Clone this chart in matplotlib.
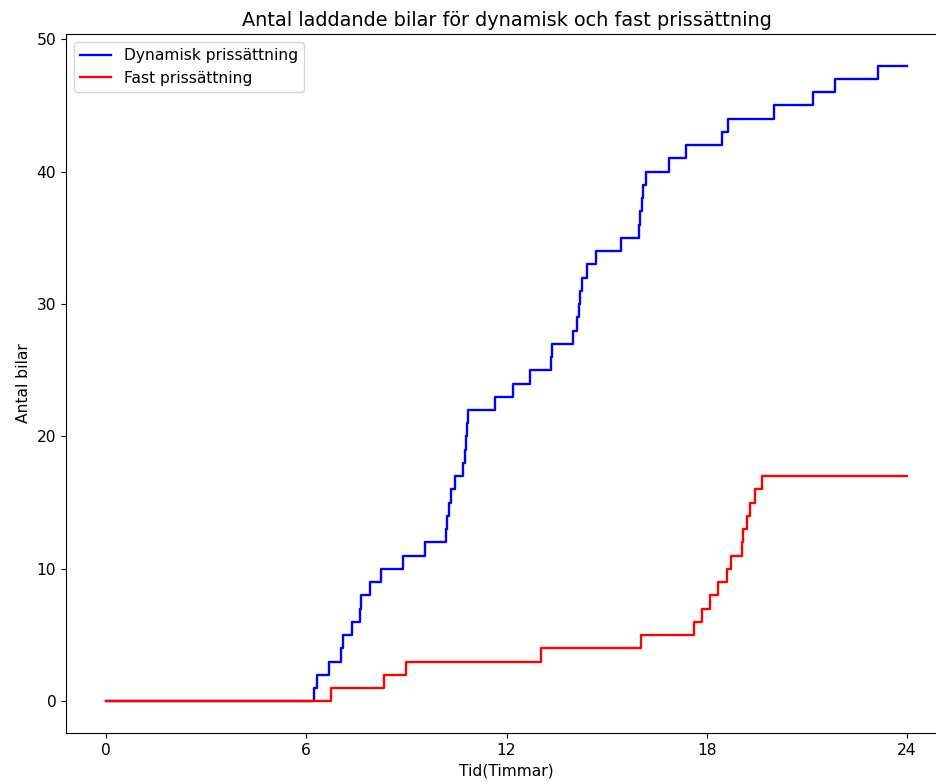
import numpy as np
import matplotlib
matplotlib.use("Agg")
import matplotlib.pyplot as plt

# tider (timmar) då en ny bil börjar ladda
dyn_times = [6.23, 6.32, 6.68, 7.04, 7.10, 7.37, 7.61, 7.64, 7.91, 8.24,
             8.90, 9.56, 10.19, 10.22, 10.28, 10.34, 10.46, 10.70, 10.76, 10.79,
             10.82, 10.85, 11.66, 12.19, 12.70, 13.33, 13.36, 13.99, 14.11, 14.17,
             14.20, 14.26, 14.41, 14.68, 15.43, 15.97, 16.00, 16.06, 16.09, 16.18,
             16.87, 17.38, 18.46, 18.64, 20.01, 21.18, 21.84, 23.13]
fast_times = [6.74, 8.33, 8.99, 13.03, 16.03, 17.62, 17.86, 18.10, 18.34, 18.61,
              18.73, 19.06, 19.09, 19.21, 19.30, 19.45, 19.66]
T_END = 24
x_ticks = [0, 6, 12, 18, 24]

plt.rcParams['font.size'] = 11.2


def cumulative(times):
    t = np.concatenate(([0], times, [T_END]))
    n = np.concatenate(([0], np.arange(1, len(times) + 1), [len(times)]))
    return t, n


fig = plt.figure(figsize=(9.36, 7.84), dpi=100)
ax = fig.add_axes([66 / 936, 51 / 784, 881 / 936, 699 / 784])

t, n = cumulative(dyn_times)
ax.step(t, n, where='post', color='b', lw=1.7, label='Dynamisk prissättning')
t, n = cumulative(fast_times)
ax.step(t, n, where='post', color='r', lw=1.7, label='Fast prissättning')

ax.set_xticks(x_ticks)
ax.set_title('Antal laddande bilar för dynamisk och fast prissättning', fontsize=13.9)
ax.set_xlabel('Tid(Timmar)')
ax.set_ylabel('Antal bilar')
ax.legend(loc='upper left')

fig.savefig('out.png', dpi=100)
